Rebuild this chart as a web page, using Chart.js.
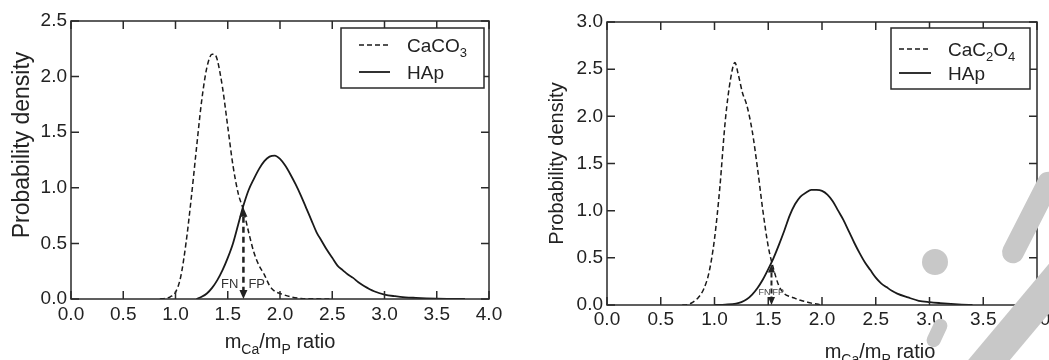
<!DOCTYPE html>
<html>
<head>
<meta charset="utf-8">
<script src="https://cdn.jsdelivr.net/npm/chart.js@4.4.1/dist/chart.umd.min.js"></script>
<style>
  html, body { margin: 0; padding: 0; background: #fff; width: 1049px; height: 360px; overflow: hidden; }
  .panel { position: absolute; top: 0; }
  #leftPanel { left: 0; width: 525px; height: 360px; }
  #rightPanel { left: 525px; width: 545px; height: 375px; }
  .wm { position: absolute; background: #c8c8c8; z-index: 5; }
</style>
</head>
<body>
<div class="panel" id="leftPanel"><canvas id="leftChart"></canvas></div>
<div class="panel" id="rightPanel"><canvas id="rightChart"></canvas></div>
<div class="wm" style="left:922px;top:249px;width:26px;height:26px;border-radius:50%;"></div>
<div class="wm" style="left:997px;top:162px;width:22px;height:100px;border-radius:11px;transform-origin:50% 100%;transform:rotate(27deg);"></div>
<div class="wm" style="left:963px;top:232px;width:32px;height:140px;transform-origin:50% 100%;transform:rotate(40deg);"></div>
<div class="wm" style="left:930px;top:318px;width:14px;height:30px;border-radius:7px;transform:rotate(25deg);"></div>
<script>
// axis ticks
const xTickValues = [0, 0.5, 1.0, 1.5, 2.0, 2.5, 3.0, 3.5, 4.0];
const yTicksLeft = [0, 0.5, 1.0, 1.5, 2.0, 2.5];
const yTicksRight = [0, 0.5, 1.0, 1.5, 2.0, 2.5, 3.0];

// left panel: CaCO3 vs HAp
const caco3Ratio = [0.85, 0.9, 0.95, 1.0, 1.05, 1.1, 1.15, 1.2, 1.25, 1.3, 1.35, 1.375, 1.4, 1.45, 1.5, 1.55, 1.6, 1.65, 1.7, 1.75, 1.8, 1.85, 1.9, 1.95, 2.0, 2.1, 2.2, 2.3, 2.5];
const caco3Density = [0, 0.005, 0.02, 0.06, 0.2, 0.5, 0.9, 1.35, 1.78, 2.08, 2.2, 2.2, 2.15, 1.9, 1.55, 1.2, 0.95, 0.8, 0.6, 0.42, 0.3, 0.22, 0.12, 0.07, 0.05, 0.02, 0.005, 0.002, 0];
const hapRatioA = [1.2, 1.25, 1.3, 1.35, 1.4, 1.45, 1.5, 1.55, 1.6, 1.65, 1.7, 1.75, 1.8, 1.85, 1.9, 1.95, 2.0, 2.05, 2.1, 2.15, 2.2, 2.25, 2.3, 2.35, 2.4, 2.45, 2.5, 2.55, 2.6, 2.65, 2.7, 2.75, 2.8, 2.9, 3.0, 3.1, 3.2, 3.3, 3.4, 3.5, 3.6, 3.77];
const hapDensityA = [0, 0.02, 0.05, 0.1, 0.17, 0.26, 0.37, 0.5, 0.67, 0.84, 0.98, 1.08, 1.17, 1.24, 1.28, 1.29, 1.26, 1.2, 1.12, 1.03, 0.93, 0.82, 0.71, 0.6, 0.52, 0.44, 0.37, 0.3, 0.26, 0.22, 0.19, 0.15, 0.12, 0.07, 0.04, 0.025, 0.015, 0.01, 0.006, 0.003, 0.001, 0];
const cutoffLeft = 1.65;
const cutoffDensityLeft = 0.82;

// right panel: CaC2O4 vs HAp
const cac2o4Ratio = [0.7, 0.75, 0.8, 0.85, 0.9, 0.95, 1.0, 1.05, 1.1, 1.15, 1.19, 1.22, 1.26, 1.3, 1.35, 1.4, 1.45, 1.5, 1.55, 1.6, 1.65, 1.7, 1.75, 1.8, 1.85, 1.9, 1.95, 2.0];
const cac2o4Density = [0, 0.005, 0.03, 0.08, 0.17, 0.35, 0.7, 1.25, 1.95, 2.4, 2.57, 2.45, 2.25, 2.12, 1.85, 1.45, 1.0, 0.62, 0.38, 0.2, 0.12, 0.09, 0.07, 0.05, 0.035, 0.02, 0.01, 0];
const hapRatioB = [1.0, 1.1, 1.2, 1.25, 1.3, 1.35, 1.4, 1.45, 1.5, 1.55, 1.6, 1.65, 1.7, 1.75, 1.8, 1.85, 1.9, 1.95, 2.0, 2.05, 2.1, 2.15, 2.2, 2.25, 2.3, 2.35, 2.4, 2.45, 2.5, 2.55, 2.6, 2.65, 2.7, 2.8, 2.9, 3.0, 3.1, 3.2, 3.3, 3.4];
const hapDensityB = [0, 0.005, 0.015, 0.03, 0.06, 0.11, 0.18, 0.27, 0.38, 0.5, 0.64, 0.79, 0.95, 1.07, 1.15, 1.19, 1.22, 1.22, 1.21, 1.17, 1.1, 1.0, 0.9, 0.78, 0.66, 0.55, 0.45, 0.37, 0.29, 0.23, 0.19, 0.15, 0.12, 0.08, 0.045, 0.03, 0.02, 0.012, 0.005, 0];
const cutoffRight = 1.53;
const cutoffDensityRight = 0.43;

const FONT = "'Liberation Sans', Arial, Helvetica, sans-serif";
Chart.defaults.font.family = FONT;

const toPoints = (xs, ys) => xs.map((x, i) => ({ x, y: ys[i] }));

// digits in a label become subscripts (CaCO3 -> CaCO₃)
function richParts(str) {
  const parts = [];
  for (const ch of str) {
    const sub = /[0-9]/.test(ch);
    const last = parts[parts.length - 1];
    if (last && last.sub === sub) last.t += ch;
    else parts.push({ t: ch, sub });
  }
  return parts;
}

function drawRich(ctx, parts, x, y, size, align) {
  const subSize = Math.round(size * 0.68);
  const widthOf = (p) => {
    ctx.font = (p.sub ? subSize : size) + "px " + FONT;
    return ctx.measureText(p.t).width;
  };
  const total = parts.reduce((s, p) => s + widthOf(p), 0);
  let cx = align === "center" ? x - total / 2 : x;
  ctx.textAlign = "left";
  ctx.textBaseline = "alphabetic";
  parts.forEach((p) => {
    ctx.font = (p.sub ? subSize : size) + "px " + FONT;
    ctx.fillText(p.t, cx, p.sub ? y + size * 0.28 : y);
    cx += ctx.measureText(p.t).width;
  });
}

const framePlugin = {
  id: "frame",
  afterDatasetsDraw(chart, args, o) {
    const { ctx, chartArea: a, scales } = chart;
    const xs = scales.x, ys = scales.y;
    ctx.save();

    // box + inward ticks on all four sides
    ctx.strokeStyle = "#2a2a2a";
    ctx.lineWidth = 1.5;
    ctx.strokeRect(a.left, a.top, a.right - a.left, a.bottom - a.top);
    ctx.beginPath();
    const len = 8;
    xs.ticks.forEach((t) => {
      const px = xs.getPixelForValue(t.value);
      ctx.moveTo(px, a.bottom); ctx.lineTo(px, a.bottom - len);
      ctx.moveTo(px, a.top); ctx.lineTo(px, a.top + len);
    });
    ys.ticks.forEach((t) => {
      const py = ys.getPixelForValue(t.value);
      ctx.moveTo(a.left, py); ctx.lineTo(a.left + len, py);
      ctx.moveTo(a.right, py); ctx.lineTo(a.right - len, py);
    });
    ctx.stroke();

    // cut-off arrow
    const ax = xs.getPixelForValue(o.arrow.x);
    const aTop = ys.getPixelForValue(o.arrow.top);
    const aBot = ys.getPixelForValue(0);
    const [hw, hh] = o.arrow.head;
    ctx.strokeStyle = "#222";
    ctx.fillStyle = "#222";
    ctx.lineWidth = o.arrow.width;
    ctx.setLineDash(o.arrow.dash);
    ctx.beginPath();
    ctx.moveTo(ax, aTop + hh);
    ctx.lineTo(ax, aBot - hh);
    ctx.stroke();
    ctx.setLineDash([]);
    ctx.beginPath();
    ctx.moveTo(ax, aTop); ctx.lineTo(ax - hw / 2, aTop + hh); ctx.lineTo(ax + hw / 2, aTop + hh);
    ctx.closePath(); ctx.fill();
    ctx.beginPath();
    ctx.moveTo(ax, aBot); ctx.lineTo(ax - hw / 2, aBot - hh); ctx.lineTo(ax + hw / 2, aBot - hh);
    ctx.closePath(); ctx.fill();

    // FN / FP
    ctx.fillStyle = o.fnColor;
    ctx.font = o.fnSize + "px " + FONT;
    ctx.textBaseline = "middle";
    const ly = ys.getPixelForValue(o.fnY);
    ctx.textAlign = "right";
    ctx.fillText("FN", ax - o.fnGap, ly);
    ctx.textAlign = "left";
    ctx.fillText("FP", ax + o.fnGap, ly);

    // legend box
    const L = o.legend;
    const bx = a.right - L.right - L.w, by = a.top + L.top;
    ctx.fillStyle = "#fff";
    ctx.fillRect(bx, by, L.w, L.h);
    ctx.strokeStyle = "#2a2a2a";
    ctx.lineWidth = 1.5;
    ctx.strokeRect(bx, by, L.w, L.h);
    chart.data.datasets.forEach((ds, i) => {
      const ry = by + L.rows[i];
      ctx.strokeStyle = ds.borderColor;
      ctx.lineWidth = ds.borderWidth;
      ctx.setLineDash(ds.borderDash || []);
      ctx.beginPath();
      ctx.moveTo(bx + L.lineFrom, ry);
      ctx.lineTo(bx + L.lineTo, ry);
      ctx.stroke();
      ctx.setLineDash([]);
      ctx.fillStyle = "#222";
      drawRich(ctx, richParts(ds.label), bx + L.textAt, ry + 7, 19, "left");
    });

    // axis titles
    ctx.fillStyle = "#222";
    drawRich(ctx, o.xTitle, (a.left + a.right) / 2 + o.xTitleShift, o.xTitleBaseline, 20, "center");
    ctx.save();
    ctx.translate(o.yTitleBaseline, (a.top + a.bottom) / 2 + o.yTitleShift);
    ctx.rotate(-Math.PI / 2);
    ctx.font = o.yTitleSize + "px " + FONT;
    ctx.textAlign = "center";
    ctx.textBaseline = "alphabetic";
    ctx.fillText("Probability density", 0, 0);
    ctx.restore();

    ctx.restore();
  },
};

const xTitleParts = [
  { t: "m", sub: false }, { t: "Ca", sub: true }, { t: "/m", sub: false },
  { t: "P", sub: true }, { t: " ratio", sub: false },
];

function makeChart(canvasId, setup) {
  const canvas = document.getElementById(canvasId);
  const tickFont = { family: FONT, size: 19 };
  const cfg = {
    type: "scatter",
    data: {
      datasets: [
        {
          label: setup.mineralName,
          data: toPoints(setup.mineralX, setup.mineralY),
          showLine: true,
          borderColor: "#1a1a1a",
          borderWidth: 1.5,
          borderDash: [5, 3],
          pointRadius: 0,
          fill: false,
          cubicInterpolationMode: "monotone",
        },
        {
          label: "HAp",
          data: toPoints(setup.hapX, setup.hapY),
          showLine: true,
          borderColor: "#1a1a1a",
          borderWidth: 1.8,
          pointRadius: 0,
          fill: false,
          cubicInterpolationMode: "monotone",
        },
      ],
    },
    options: {
      responsive: true,
      maintainAspectRatio: false,
      animation: false,
      events: [],
      layout: { padding: { top: setup.padTop, right: setup.padRight, left: 0, bottom: 0 } },
      scales: {
        x: {
          type: "linear",
          min: 0,
          max: 4,
          grid: { display: false, drawTicks: false },
          border: { display: false },
          afterBuildTicks: (s) => { s.ticks = xTickValues.map((v) => ({ value: v })); },
          afterFit: (s) => { s.height = setup.xAxisHeight; },
          ticks: {
            font: tickFont,
            color: "#222",
            padding: setup.xTickPad,
            maxRotation: 0,
            autoSkip: false,
            callback: (v) => Number(v).toFixed(1),
          },
        },
        y: {
          type: "linear",
          min: 0,
          max: setup.yMax,
          grid: { display: false, drawTicks: false },
          border: { display: false },
          afterBuildTicks: (s) => { s.ticks = setup.yTicks.map((v) => ({ value: v })); },
          afterFit: (s) => { s.width = setup.yAxisWidth; },
          ticks: {
            font: tickFont,
            color: "#222",
            padding: 4,
            autoSkip: false,
            callback: (v) => Number(v).toFixed(1),
          },
        },
      },
      plugins: {
        legend: { display: false },
        tooltip: { enabled: false },
        frame: setup.frame,
      },
    },
    plugins: [framePlugin],
  };
  return new Chart(canvas, cfg);
}

makeChart("leftChart", {
  mineralName: "CaCO3",
  mineralX: caco3Ratio,
  mineralY: caco3Density,
  hapX: hapRatioA,
  hapY: hapDensityA,
  yMax: 2.5,
  yTicks: yTicksLeft,
  padTop: 21,
  padRight: 36,
  yAxisWidth: 71,
  xAxisHeight: 61,
  xTickPad: 4,
  frame: {
    arrow: { x: cutoffLeft, top: cutoffDensityLeft, width: 2.5, dash: [6, 4], head: [8, 9] },
    fnY: 0.13, fnGap: 5, fnSize: 13, fnColor: "#333",
    legend: { w: 143, h: 60, right: 5, top: 7, rows: [17, 44], lineFrom: 18, lineTo: 49, textAt: 66 },
    xTitle: xTitleParts, xTitleShift: 0, xTitleBaseline: 348,
    yTitleBaseline: 29, yTitleShift: -15, yTitleSize: 23,
  },
});

makeChart("rightChart", {
  mineralName: "CaC2O4",
  mineralX: cac2o4Ratio,
  mineralY: cac2o4Density,
  hapX: hapRatioB,
  hapY: hapDensityB,
  yMax: 3.0,
  yTicks: yTicksRight,
  padTop: 22,
  padRight: 33,
  yAxisWidth: 82,
  xAxisHeight: 70,
  xTickPad: 3,
  frame: {
    arrow: { x: cutoffRight, top: cutoffDensityRight, width: 2, dash: [5, 3], head: [7, 8] },
    fnY: 0.13, fnGap: 1, fnSize: 9, fnColor: "#444",
    legend: { w: 139, h: 61, right: 7, top: 6, rows: [21, 45], lineFrom: 8, lineTo: 40, textAt: 57 },
    xTitle: xTitleParts, xTitleShift: 58, xTitleBaseline: 358,
    yTitleBaseline: 38, yTitleShift: 0, yTitleSize: 20,
  },
});
</script>
</body>
</html>
